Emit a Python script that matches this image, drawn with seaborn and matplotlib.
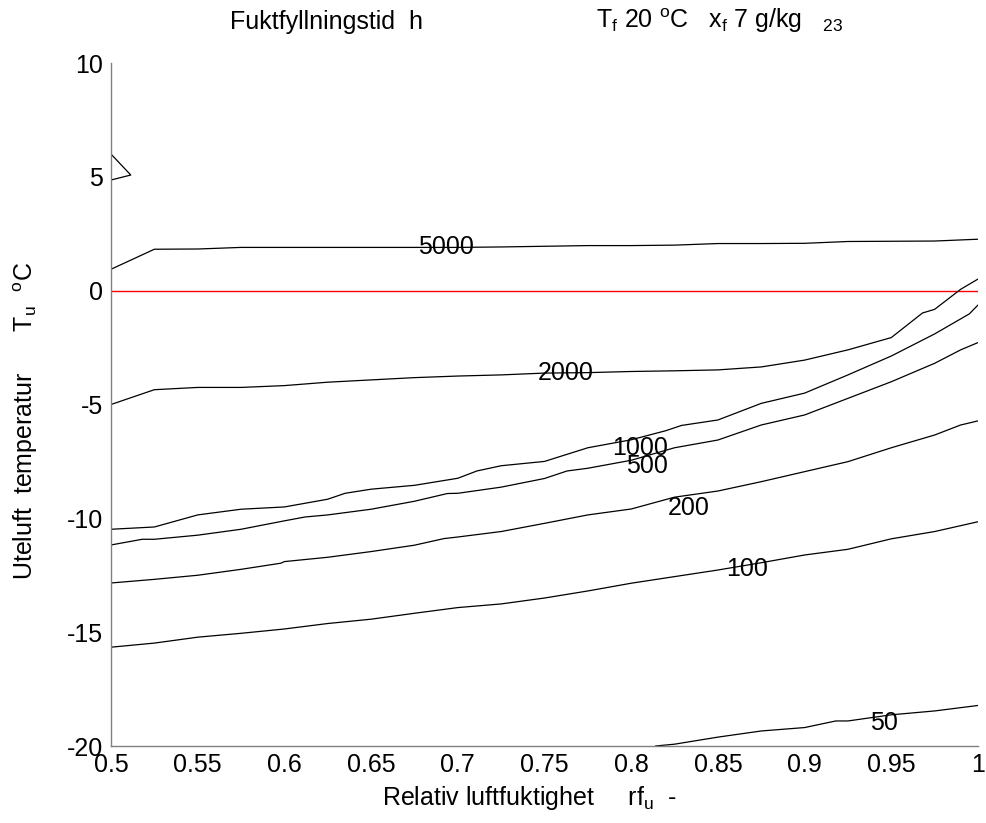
import numpy as np
import pandas as pd
import matplotlib
matplotlib.use("Agg")
import matplotlib.pyplot as plt
import seaborn as sns

# ---------------- data ----------------
rf_grid = [0.5, 0.525, 0.55, 0.575, 0.6, 0.625, 0.65, 0.675, 0.7, 0.725, 0.75,
           0.775, 0.8, 0.825, 0.85, 0.875, 0.9, 0.925, 0.95, 0.975, 1.0]

x_5000 = rf_grid
y_5000 = [0.94, 1.82, 1.83, 1.9, 1.9, 1.9, 1.9, 1.9, 1.9, 1.92, 1.95,
          1.98, 1.98, 2.0, 2.07, 2.07, 2.08, 2.16, 2.17, 2.18, 2.26]

x_2000 = [0.5, 0.525, 0.55, 0.575, 0.6, 0.625, 0.65, 0.675, 0.7, 0.725, 0.75,
          0.775, 0.8, 0.825, 0.85, 0.875, 0.9, 0.925, 0.95, 0.968, 0.975, 0.99, 1.0]
y_2000 = [-5.0, -4.35, -4.25, -4.25, -4.17, -4.02, -3.92, -3.82, -3.75, -3.7, -3.62,
          -3.6, -3.55, -3.52, -3.48, -3.35, -3.05, -2.6, -2.06, -0.98, -0.82, 0.06, 0.51]

x_1000 = [0.5, 0.525, 0.55, 0.575, 0.6, 0.625, 0.635, 0.65, 0.675, 0.7, 0.711, 0.725,
          0.75, 0.775, 0.8, 0.82, 0.829, 0.85, 0.875, 0.9, 0.925, 0.95, 0.975, 0.995, 1.0]
y_1000 = [-10.48, -10.38, -9.85, -9.6, -9.5, -9.16, -8.9, -8.72, -8.55, -8.24, -7.92, -7.69,
          -7.5, -6.9, -6.55, -6.15, -5.92, -5.68, -4.95, -4.5, -3.7, -2.87, -1.9, -1.02, -0.63]

x_500 = [0.5, 0.518, 0.525, 0.55, 0.575, 0.6, 0.612, 0.625, 0.65, 0.675, 0.694, 0.7,
         0.725, 0.75, 0.763, 0.775, 0.8, 0.825, 0.85, 0.875, 0.9, 0.925, 0.95, 0.975, 0.99, 1.0]
y_500 = [-11.17, -10.92, -10.92, -10.74, -10.48, -10.11, -9.94, -9.85, -9.6, -9.25, -8.91, -8.9,
         -8.63, -8.25, -7.92, -7.8, -7.45, -6.9, -6.56, -5.9, -5.46, -4.73, -4.0, -3.19, -2.6, -2.28]

x_200 = [0.5, 0.525, 0.55, 0.575, 0.598, 0.6, 0.625, 0.65, 0.675, 0.692, 0.7, 0.725,
         0.75, 0.775, 0.8, 0.825, 0.85, 0.875, 0.9, 0.925, 0.95, 0.975, 0.99, 1.0]
y_200 = [-12.84, -12.68, -12.5, -12.24, -11.97, -11.9, -11.71, -11.46, -11.18, -10.89, -10.82, -10.58,
         -10.22, -9.85, -9.59, -9.07, -8.8, -8.39, -7.95, -7.51, -6.9, -6.34, -5.9, -5.72]

x_100 = rf_grid
y_100 = [-15.66, -15.48, -15.22, -15.05, -14.86, -14.62, -14.43, -14.17, -13.92, -13.76, -13.5,
         -13.19, -12.85, -12.56, -12.27, -11.95, -11.61, -11.36, -10.9, -10.58, -10.15]

x_50 = [0.814, 0.825, 0.85, 0.875, 0.9, 0.918, 0.925, 0.95, 0.975, 1.0]
y_50 = [-20.0, -19.92, -19.61, -19.34, -19.19, -18.9, -18.9, -18.63, -18.46, -18.22]

# small unlabeled contour fragment at the left edge
x_frag = [0.5, 0.5114, 0.5]
y_frag = [6.0, 5.08, 4.86]

levels = ["5000", "2000", "1000", "500", "200", "100", "50"]
label_x = [0.693, 0.762, 0.805, 0.809, 0.833, 0.867, 0.946]
label_y = [1.92, -3.61, -6.89, -7.72, -9.54, -12.24, -18.97]

x_ticks = [0.5, 0.55, 0.6, 0.65, 0.7, 0.75, 0.8, 0.85, 0.9, 0.95, 1.0]
x_ticklabels = ["0.5", "0.55", "0.6", "0.65", "0.7", "0.75", "0.8", "0.85", "0.9", "0.95", "1"]
y_ticks = [-20, -15, -10, -5, 0, 5, 10]
y_ticklabels = ["-20", "-15", "-10", "-5", "0", "5", "10"]

# ---------------- build long-form table ----------------
series = {"5000": (x_5000, y_5000), "2000": (x_2000, y_2000), "1000": (x_1000, y_1000),
          "500": (x_500, y_500), "200": (x_200, y_200), "100": (x_100, y_100),
          "50": (x_50, y_50), "frag": (x_frag, y_frag)}
rows = []
for name, (xs, ys) in series.items():
    for i, (xv, yv) in enumerate(zip(xs, ys)):
        rows.append({"level": name, "rf": xv, "T": yv, "order": i})
df = pd.DataFrame(rows)

# ---------------- style ----------------
sns.set_style("white")
plt.rcParams["font.family"] = ["Liberation Sans", "DejaVu Sans"]
plt.rcParams["mathtext.default"] = "regular"
plt.rcParams["text.color"] = "black"
plt.rcParams["axes.labelcolor"] = "black"
plt.rcParams["xtick.color"] = "black"
plt.rcParams["ytick.color"] = "black"

FS = 18
W, H = 987, 823
fig = plt.figure(figsize=(W / 100, H / 100), dpi=100)
ax = fig.add_axes([111 / W, 1 - 746 / H, (978 - 111) / W, (746 - 63) / H])

for name in series:
    sub = df[df["level"] == name]
    sns.lineplot(data=sub, x="rf", y="T", sort=False, estimator=None,
                 color="black", linewidth=0.9, ax=ax, legend=False)

ax.axhline(0, color="#ff0000", linewidth=1.0, zorder=1)

for lab, lx, ly in zip(levels, label_x, label_y):
    ax.text(lx, ly, lab, fontsize=FS, ha="center", va="center", color="black")

ax.set_xlim(0.5, 1.0)
ax.set_ylim(-20, 10)
ax.set_xticks(x_ticks)
ax.set_xticklabels(x_ticklabels)
ax.set_yticks(y_ticks)
ax.set_yticklabels(y_ticklabels)
ax.set_xlabel("")
ax.set_ylabel("")

for s in ["top", "right"]:
    ax.spines[s].set_visible(False)
for s in ["left", "bottom"]:
    ax.spines[s].set_color("#808080")
    ax.spines[s].set_linewidth(1.0)
ax.tick_params(axis="both", direction="in", length=6, width=0.8, color="#808080",
               labelsize=FS, labelcolor="black")
ax.tick_params(axis="x", pad=5)
ax.tick_params(axis="y", pad=6)

# titles and axis labels as free text (MATLAB-like layout)
fig.text(230 / W, 1 - 29 / H, "Fuktfyllningstid  h", fontsize=FS, color="black",
         ha="left", va="baseline")
fig.text(596 / W, 1 - 28 / H,
         r"$T_f$ 20 $^o$C   $x_f$ 7 g/kg   $_{23}$", fontsize=FS, color="black",
         ha="left", va="baseline")
fig.text(382 / W, 1 - 805 / H, r"Relativ luftfuktighet     $rf_u$  -", fontsize=FS,
         color="black", ha="left", va="baseline")
fig.text(33 / W, 1 - 580 / H, r"Uteluft  temperatur      $T_u$  $^o$C", fontsize=FS,
         color="black", ha="left", va="baseline", rotation=90, rotation_mode="anchor")

fig.savefig("out.png", dpi=100, facecolor="white")
